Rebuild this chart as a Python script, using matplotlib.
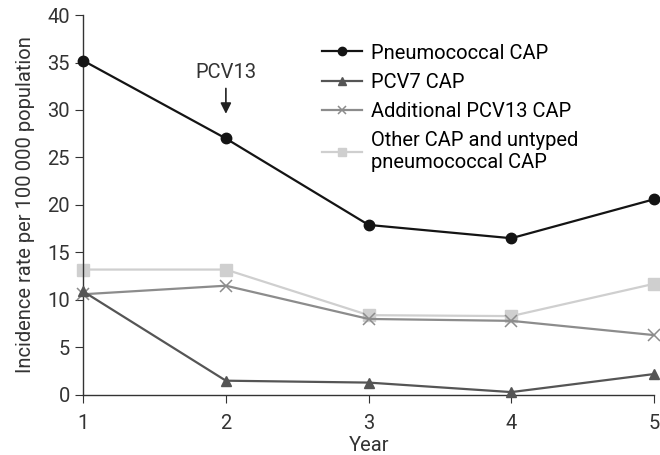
import matplotlib
matplotlib.use("Agg")
import matplotlib.pyplot as plt

years = [1, 2, 3, 4, 5]
pneumococcal = [35.2, 27.0, 17.9, 16.5, 20.6]
pcv7 = [10.9, 1.5, 1.3, 0.3, 2.2]
additional_pcv13 = [10.6, 11.5, 8.0, 7.8, 6.3]
other_untyped = [13.2, 13.2, 8.4, 8.3, 11.7]
labels = ["Pneumococcal CAP", "PCV7 CAP", "Additional PCV13 CAP",
          "Other CAP and untyped\npneumococcal CAP"]

FS = 14.5
plt.rcParams['font.family'] = ['Roboto', 'DejaVu Sans']
fig = plt.figure(figsize=(6.6, 4.55), dpi=100)
ax = fig.add_axes([0.126, 0.132, 0.865, 0.835])

ax.plot(years, other_untyped, color="#cfcfcf", marker="s", markersize=8, lw=1.6, label=labels[3], clip_on=False, zorder=2)
ax.plot(years, additional_pcv13, color="#8c8c8c", marker="x", markersize=8, mew=1.1, lw=1.6, label=labels[2], clip_on=False, zorder=3)
ax.plot(years, pcv7, color="#555555", marker="^", markersize=7.5, lw=1.6, label=labels[1], clip_on=False, zorder=4)
ax.plot(years, pneumococcal, color="#141414", marker="o", markersize=7.5, lw=1.6, label=labels[0], clip_on=False, zorder=5)

ax.set_xlim(1, 5)
ax.set_ylim(0, 40)
ax.set_xticks(years)
ax.set_yticks(range(0, 41, 5))
ax.spines['top'].set_visible(False)
ax.spines['right'].set_visible(False)
for s in ['left', 'bottom']:
    ax.spines[s].set_color("#333333")
    ax.spines[s].set_linewidth(1.0)
ax.tick_params(labelsize=FS, colors="#333333", length=6, direction="out")
ax.tick_params(axis='x', pad=8)
ax.set_xlabel("Year", fontsize=FS, color="#333333", labelpad=2)
ax.set_ylabel("Incidence rate per 100\u2009000 population", fontsize=FS, color="#333333", labelpad=9)

ax.annotate("PCV13", xy=(2, 29.6), xytext=(2, 33.0), ha="center", va="bottom",
            fontsize=FS, color="#333333",
            arrowprops=dict(arrowstyle="-|>", color="#222222", lw=1.2, mutation_scale=16,
                            shrinkA=3, shrinkB=0))

h, l = ax.get_legend_handles_labels()
ax.legend(h[::-1], l[::-1], loc="upper left", bbox_to_anchor=(0.418, 0.925), frameon=False,
          fontsize=FS, handlelength=2.0, labelspacing=0.5, handletextpad=0.45, markerscale=0.8,
          borderpad=0, borderaxespad=0)

fig.savefig("out.png", dpi=100)
